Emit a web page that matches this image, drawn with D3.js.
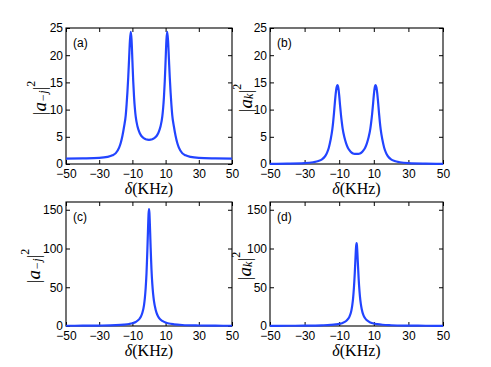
<!DOCTYPE html>
<html>
<head>
<meta charset="utf-8">
<script src="https://cdn.jsdelivr.net/npm/d3@7"></script>
<style>
  body { margin: 0; background: #fff; }
  svg { display: block; }
  .tick text { font-family: "Liberation Sans", Arial, sans-serif; font-size: 12px; fill: #000; }
  .tick line { stroke: #000; }
  .domain { display: none; }
</style>
</head>
<body>
<svg id="chart" width="491" height="367"></svg>
<script>
// detuning grid (KHz) for the double-peak panels
const xAB = [-50, -40, -30, -25, -22, -20, -18, -17, -16, -15, -14, -13.5, -13, -12.5, -12, -11.5, -11, -10.5, -10, -9.5, -9, -8.5, -8, -7, -6, -5, -4, -3, -2, -1, 0,
  1, 2, 3, 4, 5, 6, 7, 8, 8.5, 9, 9.5, 10, 10.5, 11, 11.5, 12, 12.5, 13, 13.5, 14, 15, 16, 17, 18, 20, 22, 25, 30, 40, 50]
const yA = [1.0, 1.04, 1.12, 1.3, 1.6, 2.0, 3.0, 3.9, 5.2, 6.9, 9.0, 10.9, 13.2, 16.0, 19.3, 22.6, 24.3, 22.8, 19.0, 15.2, 12.3, 10.2, 8.7, 7.0, 6.0, 5.35, 4.95, 4.7, 4.55, 4.47, 4.45,
  4.47, 4.55, 4.7, 4.95, 5.35, 6.0, 7.0, 8.7, 10.2, 12.3, 15.2, 19.0, 22.8, 24.3, 22.6, 19.3, 16.0, 13.2, 10.9, 9.0, 6.9, 5.2, 3.9, 3.0, 2.0, 1.6, 1.3, 1.12, 1.04, 1.0]
const yB = [0.03, 0.06, 0.15, 0.32, 0.55, 0.85, 1.5, 2.1, 3.0, 4.4, 6.3, 7.7, 9.4, 11.3, 13.0, 14.1, 14.5, 14.0, 12.6, 10.8, 9.1, 7.7, 6.5, 4.9, 3.8, 3.0, 2.5, 2.15, 1.95, 1.87, 1.85,
  1.87, 1.95, 2.15, 2.5, 3.0, 3.8, 4.9, 6.5, 7.7, 9.1, 10.8, 12.6, 14.0, 14.5, 14.1, 13.0, 11.3, 9.4, 7.7, 6.3, 4.4, 3.0, 2.1, 1.5, 0.85, 0.55, 0.32, 0.15, 0.06, 0.03]

// detuning grid for the single-peak panels
const xCD = [-50, -40, -30, -20, -15, -12, -10, -8, -6, -5, -4, -3, -2.5, -2, -1.5, -1.25, -1, -0.75, -0.5, -0.25, 0,
  0.25, 0.5, 0.75, 1, 1.25, 1.5, 2, 2.5, 3, 4, 5, 6, 8, 10, 12, 15, 20, 30, 40, 50]
const yC = [0.3, 0.4, 0.6, 1.1, 1.8, 2.6, 3.5, 5.2, 8.5, 11.5, 17, 27, 36, 49, 68, 82, 97, 114, 131, 145, 151,
  146, 133, 117, 101, 86, 73, 54, 41, 32, 21, 14.5, 10.5, 6.5, 4.4, 3.2, 2.2, 1.3, 0.65, 0.42, 0.3]
const yD = [0.2, 0.3, 0.45, 0.9, 1.4, 2.0, 2.7, 4.0, 6.5, 8.8, 12.5, 19.5, 26, 35, 49, 58, 68, 80, 92, 102, 107,
  104, 95, 83, 72, 61, 52, 38, 28.5, 22, 14, 10, 7.3, 4.6, 3.2, 2.4, 1.6, 1.0, 0.5, 0.32, 0.22]

const xTicks = [-50, -30, -10, 10, 30, 50]
const yTicksAB = [0, 5, 10, 15, 20, 25]
const yTicksCD = [0, 50, 100, 150]
const panelLabels = ['(a)', '(b)', '(c)', '(d)']
const ySubs = ['\u2212j', 'k', '\u2212j', 'k']

const panels = [
  { x: xAB, y: yA, yMax: 25, yTicks: yTicksAB, box: [66, 232, 28, 164], yLabX: 39 },
  { x: xAB, y: yB, yMax: 25, yTicks: yTicksAB, box: [270, 443, 28, 164], yLabX: 245 },
  { x: xCD, y: yC, yMax: 160, yTicks: yTicksCD, box: [66, 232, 202, 326], yLabX: 33 },
  { x: xCD, y: yD, yMax: 160, yTicks: yTicksCD, box: [270, 443, 202, 326], yLabX: 244 }
]

const svg = d3.select('#chart')

panels.forEach((p, i) => {
  const [l, r, t, b] = p.box
  const xScale = d3.scaleLinear().domain([-50, 50]).range([l, r])
  const yScale = d3.scaleLinear().domain([0, p.yMax]).range([b, t])
  const g = svg.append('g').attr('class', 'panel')

  // tick marks inside the box on all four sides
  g.append('g').attr('transform', `translate(0,${b})`)
    .call(d3.axisBottom(xScale).tickValues(xTicks).tickSizeInner(-4).tickSizeOuter(0).tickPadding(5))
  g.append('g').attr('transform', `translate(0,${t})`)
    .call(d3.axisTop(xScale).tickValues(xTicks).tickSizeInner(-4).tickSizeOuter(0).tickFormat(''))
  g.append('g').attr('transform', `translate(${l},0)`)
    .call(d3.axisLeft(yScale).tickValues(p.yTicks).tickSizeInner(-4).tickSizeOuter(0).tickPadding(3))
  g.append('g').attr('transform', `translate(${r},0)`)
    .call(d3.axisRight(yScale).tickValues(p.yTicks).tickSizeInner(-4).tickSizeOuter(0).tickFormat(''))

  g.append('rect')
    .attr('x', l).attr('y', t)
    .attr('width', r - l).attr('height', b - t)
    .attr('fill', 'none')
    .attr('stroke', '#000')
    .attr('stroke-width', 1.1)

  const line = d3.line()
    .x(d => xScale(d[0]))
    .y(d => yScale(d[1]))
    .curve(d3.curveMonotoneX)

  g.append('path')
    .datum(p.x.map((v, k) => [v, p.y[k]]))
    .attr('d', line)
    .attr('fill', 'none')
    .attr('stroke', '#2244ff')
    .attr('stroke-width', 2.2)
    .attr('stroke-linejoin', 'round')

  g.append('text')
    .attr('x', l + 7).attr('y', t + 19)
    .style('font-family', '"Liberation Sans", Arial, sans-serif')
    .style('font-size', '12px')
    .text(panelLabels[i])

  // x label: delta(KHz)
  const xl = g.append('text')
    .attr('x', (l + r) / 2).attr('y', b + 30)
    .attr('text-anchor', 'middle')
    .style('font-family', '"Liberation Serif", "DejaVu Serif", serif')
    .style('font-size', '16px')
  xl.append('tspan').style('font-style', 'italic').text('\u03b4')
  xl.append('tspan').text('(KHz)')

  // y label: |a_sub|^2
  const yl = g.append('text')
    .attr('transform', `translate(${p.yLabX},${(t + b) / 2 + 2}) rotate(-90)`)
    .attr('text-anchor', 'middle')
    .attr('dominant-baseline', 'central')
    .style('font-family', '"Liberation Serif", "DejaVu Serif", serif')
    .style('font-size', '19px')
  yl.append('tspan').text('|')
  yl.append('tspan').style('font-style', 'italic').text('a')
  yl.append('tspan').attr('dy', 4).style('font-size', '12px').style('font-style', 'italic').text(ySubs[i])
  yl.append('tspan').attr('dy', -4).text('|')
  yl.append('tspan').attr('dy', -8).style('font-size', '12px').text('2')
})
</script>
</body>
</html>
